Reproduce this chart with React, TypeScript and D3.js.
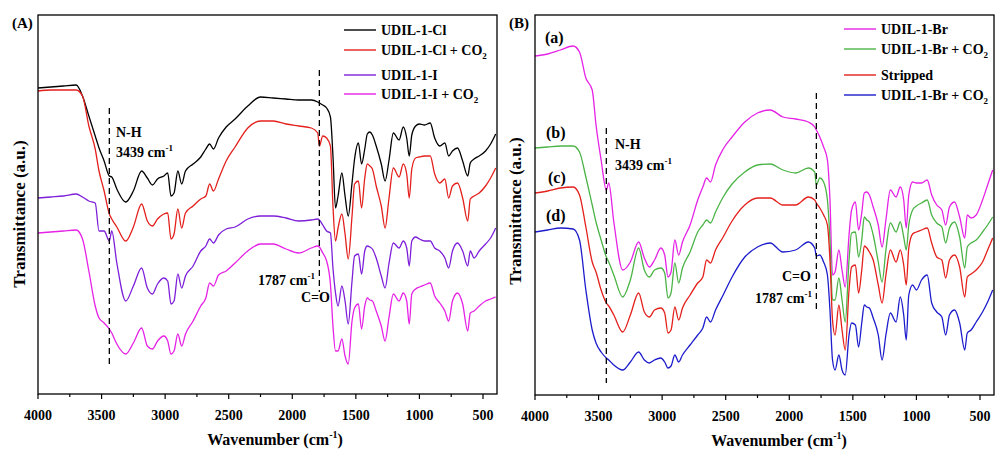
import * as d3 from "d3";

// shared wavenumber grid (cm-1)
const wavenumbers = [
  4000, 3900, 3800, 3700, 3650, 3600, 3550, 3520, 3480, 3439,
  3420, 3380, 3310, 3250, 3185, 3140, 3100, 3060, 3010, 2980,
  2954, 2930, 2900, 2870, 2840, 2780, 2720, 2680, 2650, 2620,
  2580, 2520, 2450, 2350, 2250, 2150, 2050, 1950, 1850, 1800,
  1787, 1760, 1730, 1700, 1680, 1660, 1640, 1610, 1585, 1560,
  1530, 1510, 1480, 1455, 1430, 1410, 1390, 1370, 1340, 1300,
  1270, 1240, 1205, 1160, 1127, 1100, 1080, 1060, 1030, 1000,
  960, 915, 880, 840, 800, 770, 740, 700, 660, 620,
  600, 570, 530, 480, 440, 400,
];

const majorTicks = [4000, 3500, 3000, 2500, 2000, 1500, 1000, 500];
const minorTicks = [3750, 3250, 2750, 2250, 1750, 1250, 750];

// panel (A) transmittance, a.u.
const udilCl = [
  306, 307, 308, 309, 298, 278, 258, 246, 233, 218,
  217, 205, 192, 203, 223, 216, 209, 215, 218, 221,
  198, 201, 223, 210, 223, 230, 237, 245, 250, 245,
  256, 267, 275, 288, 297, 296, 295, 294, 294, 292,
  291, 289, 286, 277, 238, 186, 198, 221, 198, 178,
  211, 235, 251, 230, 245, 260, 262, 259, 248, 230,
  213, 233, 261, 254, 267, 256, 238, 259, 268, 270,
  269, 271, 256, 248, 251, 238, 243, 246, 233, 218,
  231, 235, 238, 243, 250, 260,
];
const udilClCO2 = [
  303, 304, 304, 304, 298, 268, 245, 223, 203, 180,
  175, 167, 153, 167, 190, 173, 168, 175, 180, 181,
  155, 160, 185, 166, 181, 188, 195, 198, 210, 203,
  215, 233, 247, 266, 273, 273, 270, 268, 266, 261,
  248, 258, 256, 248, 188, 153, 166, 180, 160, 135,
  178, 210, 213, 186, 216, 230, 228, 225, 208, 188,
  166, 195, 226, 217, 230, 220, 196, 225, 236, 237,
  238, 238, 220, 211, 215, 196, 208, 211, 196, 173,
  195, 198, 201, 208, 216, 226,
];
const udilI = [
  196, 197, 198, 200, 197, 193, 191, 163, 163, 153,
  163, 131, 93, 108, 126, 106, 100, 110, 116, 113,
  90, 93, 120, 106, 118, 128, 143, 148, 155, 151,
  159, 165, 167, 175, 178, 178, 176, 173, 174, 175,
  174, 169, 163, 161, 126, 101, 88, 108, 93, 70,
  113, 138, 140, 120, 143, 148, 147, 145, 136, 118,
  106, 130, 151, 146, 153, 146, 128, 153, 157, 155,
  153, 153, 146, 143, 136, 126, 143, 151, 143, 128,
  143, 136, 143, 150, 156, 166,
];
const udilICO2 = [
  161, 162, 163, 164, 155, 123, 88, 76, 71, 65,
  61, 50, 40, 51, 66, 48, 45, 53, 58, 53,
  40, 43, 60, 48, 60, 73, 88, 96, 111, 108,
  119, 123, 131, 143, 150, 150, 145, 141, 146, 148,
  147, 141, 133, 110, 68, 43, 43, 55, 38, 30,
  73, 86, 90, 65, 88, 96, 94, 93, 83, 68,
  53, 76, 100, 93, 101, 93, 70, 100, 105, 107,
  109, 111, 98, 91, 83, 73, 93, 101, 90, 63,
  81, 83, 88, 93, 95, 97,
];

// panel (B) transmittance, a.u.
const udilBr = [
  339, 341, 345, 349, 343, 317, 305, 270, 235, 205,
  212, 173, 125, 133, 153, 137, 128, 135, 147, 140,
  118, 123, 155, 140, 153, 170, 195, 208, 217, 213,
  230, 246, 258, 273, 282, 285, 278, 276, 273, 268,
  265, 258, 248, 235, 195, 120, 123, 145, 125, 108,
  160, 185, 193, 165, 182, 202, 203, 200, 188, 170,
  148, 175, 205, 198, 208, 195, 167, 200, 213, 212,
  212, 215, 200, 190, 185, 170, 188, 193, 178, 157,
  180, 177, 180, 195, 210, 225,
];
const udilBrCO2 = [
  247, 248, 249, 249, 243, 218, 190, 173, 155, 138,
  133, 120, 98, 115, 147, 125, 118, 125, 127, 122,
  97, 102, 132, 112, 127, 143, 163, 170, 175, 172,
  183, 198, 211, 223, 230, 231, 225, 222, 227, 223,
  210, 217, 213, 195, 155, 95, 95, 117, 95, 73,
  135, 162, 163, 138, 155, 178, 175, 173, 160, 133,
  113, 145, 172, 163, 173, 158, 145, 170, 185, 189,
  192, 195, 180, 172, 168, 152, 167, 173, 158, 127,
  148, 152, 155, 163, 170, 178,
];
const strippedBr = [
  202, 204, 207, 208, 200, 168, 133, 123, 105, 92,
  89, 80, 63, 80, 102, 83, 78, 85, 87, 82,
  62, 65, 88, 75, 87, 100, 112, 118, 135, 132,
  145, 158, 174, 190, 197, 197, 190, 190, 198, 195,
  192, 187, 180, 170, 135, 75, 60, 90, 65, 45,
  105, 128, 130, 102, 125, 149, 147, 143, 135, 110,
  92, 120, 145, 133, 145, 130, 110, 147, 161, 163,
  165, 167, 152, 138, 135, 117, 135, 140, 128, 98,
  118, 121, 125, 133, 145, 157,
];
const udilBrCO2Again = [
  163, 165, 167, 166, 155, 105, 65, 52, 43, 37,
  35, 30, 25, 33, 43, 35, 32, 35, 37, 33,
  27, 29, 40, 33, 40, 50, 60, 67, 78, 73,
  85, 100, 118, 138, 148, 152, 143, 145, 153, 147,
  139, 140, 133, 120, 85, 35, 25, 40, 25, 20,
  60, 72, 70, 48, 72, 90, 88, 87, 77, 60,
  35, 60, 82, 73, 98, 80, 55, 100, 110, 105,
  115, 120, 92, 83, 78, 60, 80, 85, 72, 45,
  62, 65, 73, 83, 93, 105,
];

const FONT = "'Liberation Serif', 'Times New Roman', serif";

type Series = { label: string; sub?: string; color: string; values: number[] };

const seriesA: Series[] = [
  { label: "UDIL-1-Cl", color: "#000000", values: udilCl },
  { label: "UDIL-1-Cl + CO", sub: "2", color: "#e3201c", values: udilClCO2 },
  { label: "UDIL-1-I", color: "#7d1fd8", values: udilI },
  { label: "UDIL-1-I + CO", sub: "2", color: "#e522e6", values: udilICO2 },
];
const seriesB: Series[] = [
  { label: "UDIL-1-Br", color: "#e522e6", values: udilBr },
  { label: "UDIL-1-Br + CO", sub: "2", color: "#4cb447", values: udilBrCO2 },
  { label: "Stripped", color: "#e3201c", values: strippedBr },
  { label: "UDIL-1-Br + CO", sub: "2", color: "#1c1ccc", values: udilBrCO2Again },
];

function Wn({ x, y, num, anchor = "start" }: { x: number; y: number; num: string; anchor?: string }) {
  return (
    <text x={x} y={y} fontSize={14} fontWeight="bold" textAnchor={anchor}>
      {num} cm<tspan dy={-6} fontSize={9}>-1</tspan>
    </text>
  );
}

function Panel(props: {
  left: number; right: number; top: number; bottom: number; yMax: number;
  series: Series[]; tag: string; xLabelX: number; yLabelX: number; yLabelY: number;
  legendX: number; legendRows: number[]; children?: any;
}) {
  const { left, right, top, bottom, yMax, series } = props;
  const x = d3.scaleLinear().domain([4000, 400]).range([left, left + 3600 * 0.12714]);
  const y = d3.scaleLinear().domain([0, yMax]).range([bottom, top]);
  const line = d3
    .line<number>()
    .x((_, i) => x(wavenumbers[i]))
    .y((d) => y(d))
    .curve(d3.curveMonotoneX);

  return (
    <g fontFamily={FONT}>
      <defs>
        <clipPath id={`clip-${props.tag}`}>
          <rect x={left} y={top} width={right - left} height={bottom - top} />
        </clipPath>
      </defs>
      <g clipPath={`url(#clip-${props.tag})`}>
        {series.map((s, i) => (
          <path key={i} d={line(s.values) || ""} fill="none" stroke={s.color} strokeWidth={1.3} />
        ))}
      </g>
      <rect x={left} y={top} width={right - left} height={bottom - top} fill="none" stroke="#000" strokeWidth={1.3} />
      {majorTicks.map((t) => (
        <g key={t}>
          <line x1={x(t)} x2={x(t)} y1={bottom} y2={bottom + 5} stroke="#000" strokeWidth={1.2} />
          <text x={x(t)} y={bottom + 26} fontSize={14} fontWeight="bold" textAnchor="middle">{t}</text>
        </g>
      ))}
      {minorTicks.map((t) => (
        <line key={t} x1={x(t)} x2={x(t)} y1={bottom} y2={bottom + 3} stroke="#000" strokeWidth={1.2} />
      ))}
      <text x={props.xLabelX} y={bottom + 51} fontSize={16} fontWeight="bold" textAnchor="middle">
        Wavenumber (cm<tspan dy={-7} fontSize={10}>-1</tspan><tspan dy={7}>)</tspan>
      </text>
      <text
        transform={`translate(${props.yLabelX},${props.yLabelY}) rotate(-90)`}
        fontSize={17}
        fontWeight="bold"
        textAnchor="middle"
      >
        Transmittance (a.u.)
      </text>
      <text x={left - 26} y={28} fontSize={15} fontWeight="bold">{`(${props.tag})`}</text>
      {series.map((s, i) => (
        <g key={i}>
          <line x1={props.legendX} x2={props.legendX + 32} y1={props.legendRows[i]} y2={props.legendRows[i]} stroke={s.color} strokeWidth={1.4} />
          <text x={props.legendX + 37} y={props.legendRows[i] + 5} fontSize={14} fontWeight="bold">
            {s.label}
            {s.sub && <tspan dy={4} fontSize={9}>{s.sub}</tspan>}
          </text>
        </g>
      ))}
      {/* band markers */}
      {props.children && props.children(x)}
    </g>
  );
}

export default function App() {
  return (
    <svg width={995} height={451} style={{ position: "absolute", left: 0, top: 0, background: "#fff" }}>
      <Panel
        left={38} right={497} top={15} bottom={394} yMax={379} series={seriesA} tag="A"
        xLabelX={275} yLabelX={25} yLabelY={214} legendX={344} legendRows={[30, 50, 75, 94]}
      >
        {(x: (v: number) => number) => (
          <g>
            <line x1={x(3439)} x2={x(3439)} y1={108} y2={365} stroke="#000" strokeWidth={1.3} strokeDasharray="6,4" />
            <line x1={x(1787)} x2={x(1787)} y1={70} y2={292} stroke="#000" strokeWidth={1.3} strokeDasharray="6,4" />
            <text x={116} y={137} fontSize={14} fontWeight="bold">N-H</text>
            <Wn x={116} y={157} num="3439" />
            <Wn x={258} y={285} num="1787" />
            <text x={301} y={302} fontSize={14} fontWeight="bold">C=O</text>
          </g>
        )}
      </Panel>
      <Panel
        left={535} right={994} top={15} bottom={395} yMax={380} series={seriesB} tag="B"
        xLabelX={779} yLabelX={521} yLabelY={211} legendX={844} legendRows={[29, 49, 75, 95]}
      >
        {(x: (v: number) => number) => (
          <g>
            <line x1={x(3439)} x2={x(3439)} y1={128} y2={383} stroke="#000" strokeWidth={1.3} strokeDasharray="6,4" />
            <line x1={x(1787)} x2={x(1787)} y1={93} y2={310} stroke="#000" strokeWidth={1.3} strokeDasharray="6,4" />
            <text x={615} y={149} fontSize={14} fontWeight="bold">N-H</text>
            <Wn x={615} y={170} num="3439" />
            <text x={782} y={281} fontSize={14} fontWeight="bold">C=O</text>
            <Wn x={755} y={303} num="1787" />
            <text x={545} y={43} fontSize={16} fontWeight="bold">(a)</text>
            <text x={546} y={138} fontSize={16} fontWeight="bold">(b)</text>
            <text x={548} y={183} fontSize={16} fontWeight="bold">(c)</text>
            <text x={546} y={221} fontSize={16} fontWeight="bold">(d)</text>
          </g>
        )}
      </Panel>
    </svg>
  );
}
